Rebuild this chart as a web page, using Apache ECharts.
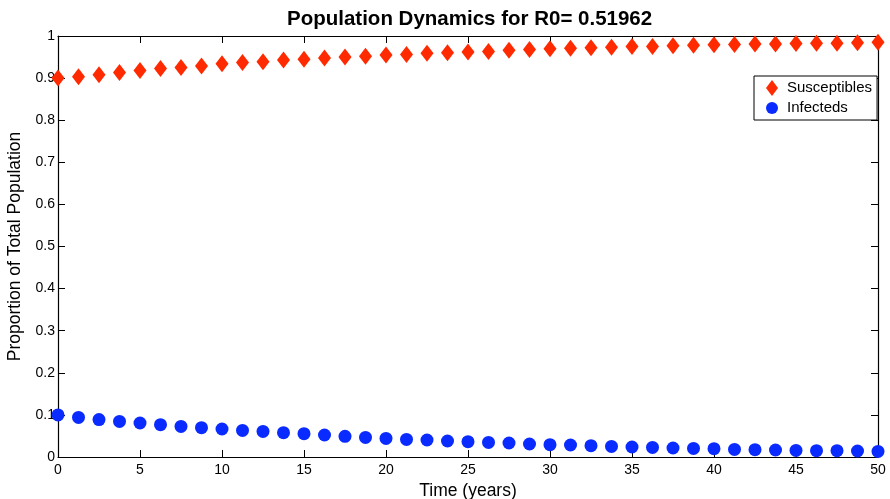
<!DOCTYPE html>
<html>
<head>
<meta charset="utf-8">
<title>Population Dynamics</title>
<script src="https://cdn.jsdelivr.net/npm/echarts@6/dist/echarts.min.js"></script>
<style>
  html, body { margin: 0; padding: 0; background: #fff; }
  #chart { width: 890px; height: 499px; }
</style>
</head>
<body>
<div id="chart"></div>
<script>
// Sample times (years)
const times = [0, 1.25, 2.5, 3.75, 5, 6.25, 7.5, 8.75, 10, 11.25, 12.5, 13.75, 15, 16.25,
  17.5, 18.75, 20, 21.25, 22.5, 23.75, 25, 26.25, 27.5, 28.75, 30, 31.25, 32.5, 33.75,
  35, 36.25, 37.5, 38.75, 40, 41.25, 42.5, 43.75, 45, 46.25, 47.5, 48.75, 50];

// Proportion susceptible
const susceptibles = [0.900, 0.903, 0.908, 0.9135, 0.918, 0.923, 0.925, 0.929, 0.934, 0.937,
  0.939, 0.943, 0.945, 0.948, 0.950, 0.952, 0.955, 0.956, 0.959, 0.960, 0.962, 0.963,
  0.966, 0.968, 0.970, 0.971, 0.972, 0.973, 0.975, 0.975, 0.977, 0.978, 0.979, 0.980,
  0.981, 0.981, 0.982, 0.983, 0.983, 0.984, 0.985];

// Proportion infected
const infecteds = [0.100, 0.094, 0.089, 0.0846, 0.0807, 0.0767, 0.0727, 0.0696, 0.0665,
  0.0632, 0.0608, 0.0577, 0.0553, 0.0522, 0.049, 0.0466, 0.0442, 0.0418, 0.0404, 0.038,
  0.0363, 0.0347, 0.0333, 0.0309, 0.0292, 0.0285, 0.0268, 0.0252, 0.0238, 0.0228, 0.0214,
  0.0204, 0.0197, 0.018, 0.0173, 0.0166, 0.0157, 0.015, 0.015, 0.0143, 0.0133];

const seriesNames = ['Susceptibles', 'Infecteds'];
const titleText = 'Population Dynamics for R0= 0.51962';
const xAxisName = 'Time (years)';
const yAxisName = 'Proportion of Total Population';

const FONT = '"Liberation Sans", Arial, Helvetica, sans-serif';
const RED = '#ff2a00';
const BLUE = '#0a2bff';

const pairs = (xs, ys) => xs.map((x, i) => [x, ys[i]]);

const tickStyle = { show: true, inside: true, length: 7, lineStyle: { color: '#000', width: 1 } };
const lineStyle = { show: true, onZero: false, lineStyle: { color: '#000', width: 1.2 } };

const chart = echarts.init(document.getElementById('chart'), null, { renderer: 'canvas' });
chart.setOption({
  backgroundColor: '#fff',
  animation: false,
  title: {
    text: titleText,
    left: 282,
    top: 4,
    textStyle: { fontFamily: FONT, fontSize: 20.5, fontWeight: 'bold', color: '#000' }
  },
  grid: { left: 58, right: 12, top: 36, bottom: 42, containLabel: false, outerBoundsMode: 'none' },
  legend: {
    orient: 'vertical',
    left: 754,
    top: 76,
    padding: [4, 5, 4, 12],
    itemGap: 4,
    itemWidth: 12,
    itemHeight: 16,
    backgroundColor: '#fff',
    borderColor: '#000',
    borderWidth: 1,
    borderRadius: 0,
    textStyle: { fontFamily: FONT, fontSize: 15, color: '#000', padding: [0, 0, 0, 4], lineHeight: 16 },
    data: [
      { name: seriesNames[0], icon: 'diamond' },
      { name: seriesNames[1], icon: 'circle' }
    ]
  },
  xAxis: [
    {
      type: 'value', min: 0, max: 50, interval: 5, position: 'bottom',
      name: xAxisName, nameLocation: 'middle', nameGap: 18,
      nameTextStyle: { fontFamily: FONT, fontSize: 17.5, color: '#000' },
      axisLine: lineStyle, axisTick: tickStyle, splitLine: { show: false },
      axisLabel: { fontFamily: FONT, fontSize: 14, color: '#000', margin: 6 }
    },
    {
      type: 'value', min: 0, max: 50, interval: 5, position: 'top',
      axisLine: lineStyle, axisTick: tickStyle, splitLine: { show: false },
      axisLabel: { show: false }
    }
  ],
  yAxis: [
    {
      type: 'value', min: 0, max: 1, interval: 0.1, position: 'left',
      name: yAxisName, nameLocation: 'middle', nameGap: 30, nameRotate: 90,
      nameTextStyle: { fontFamily: FONT, fontSize: 17.5, color: '#000' },
      axisLine: lineStyle, axisTick: tickStyle, splitLine: { show: false },
      axisLabel: { fontFamily: FONT, fontSize: 14, color: '#000', margin: 3 }
    },
    {
      type: 'value', min: 0, max: 1, interval: 0.1, position: 'right',
      axisLine: lineStyle, axisTick: tickStyle, splitLine: { show: false },
      axisLabel: { show: false }
    }
  ],
  series: [
    {
      name: seriesNames[0], type: 'scatter', symbol: 'diamond', symbolSize: [13, 17],
      itemStyle: { color: RED, opacity: 1 }, data: pairs(times, susceptibles), z: 3
    },
    {
      name: seriesNames[1], type: 'scatter', symbol: 'circle', symbolSize: 13,
      itemStyle: { color: BLUE, opacity: 1 }, data: pairs(times, infecteds), z: 3
    }
  ]
});
</script>
</body>
</html>
